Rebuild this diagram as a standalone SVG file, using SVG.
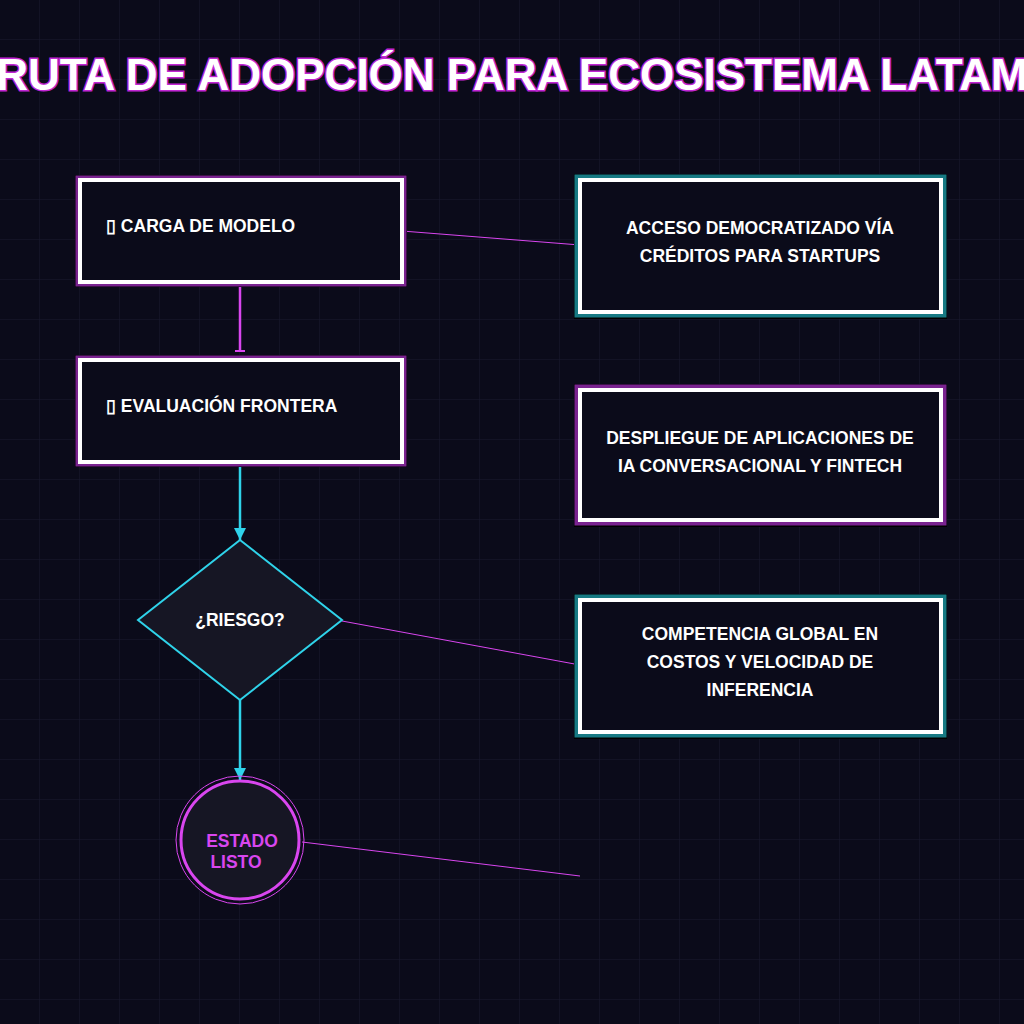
<svg xmlns="http://www.w3.org/2000/svg" width="1024" height="1024" viewBox="0 0 1024 1024">
<defs>
<pattern id="grid" width="40" height="40" patternUnits="userSpaceOnUse"><path d="M40 0V40M0 40H40" fill="none" stroke="#191930" stroke-width="1"/></pattern>
<marker id="arr" viewBox="0 0 10 10" refX="10" refY="5" markerWidth="12" markerHeight="20" markerUnits="userSpaceOnUse" orient="auto"><path d="M0 0L10 5L0 10Z" fill="#2fd3ea"/></marker>
<marker id="tee" viewBox="0 0 2 10" refX="1" refY="5" markerWidth="2" markerHeight="20" markerUnits="userSpaceOnUse" orient="auto"><rect width="2" height="10" fill="#d946ef"/></marker>
</defs>
<style>
.t{font-family:"Liberation Sans",Arial,sans-serif;font-weight:bold;fill:#fff;font-size:17.5px}
.c{text-anchor:middle}
.in{fill:#0b0b1a;stroke:#fff;stroke-width:4}
.thin{stroke:#d946ef;stroke-width:1;fill:none}
</style>
<rect width="1024" height="1024" fill="#0b0b1a"/>
<rect width="1024" height="1024" fill="url(#grid)"/>
<text x="512" y="90" class="t c" style="font-size:44px;stroke:#c026d3;stroke-width:3;paint-order:stroke">RUTA DE ADOPCIÓN PARA ECOSISTEMA LATAM</text>
<g id="connectors">
<line x1="240" y1="282" x2="240" y2="351" stroke="#d946ef" stroke-width="2.5" marker-end="url(#tee)"/>
<line x1="240" y1="462" x2="240" y2="540" stroke="#2fd3ea" stroke-width="2.5" marker-end="url(#arr)"/>
<line x1="240" y1="700" x2="240" y2="780" stroke="#2fd3ea" stroke-width="2.5" marker-end="url(#arr)"/>
<line x1="402" y1="231" x2="580" y2="245" class="thin"/>
<line x1="342" y1="621" x2="580" y2="665" class="thin"/>
<line x1="302" y1="842" x2="580" y2="876" class="thin"/>
</g>
<g id="n1"><rect x="75" y="175" width="332" height="112" fill="#000"/><rect x="78" y="178" width="326" height="106" stroke="#7a2390" stroke-width="5" fill="none"/><rect x="80" y="180" width="322" height="102" class="in"/><text x="106" y="232" class="t">▯ CARGA DE MODELO</text></g>
<g id="n2"><rect x="75" y="355" width="332" height="112" fill="#000"/><rect x="78" y="358" width="326" height="106" stroke="#7a2390" stroke-width="5" fill="none"/><rect x="80" y="360" width="322" height="102" class="in"/><text x="106" y="412" class="t">▯ EVALUACIÓN FRONTERA</text></g>
<g id="n3"><polygon points="240,540 342,620 240,700 138,620" fill="#161624" stroke="#2fd3ea" stroke-width="2"/><text x="240" y="626" class="t c">¿RIESGO?</text></g>
<g id="n4"><circle cx="240" cy="840" r="64" fill="none" stroke="#d946ef" stroke-width="1"/><circle cx="240" cy="840" r="59" fill="#161624" stroke="#d946ef" stroke-width="3"/><text class="t c" style="fill:#d946ef"><tspan x="242" y="847">ESTADO</tspan><tspan x="236" y="868">LISTO</tspan></text></g>
<g id="r1"><rect x="574" y="174" width="373" height="145" fill="#000"/><rect x="577" y="177" width="367" height="138" stroke="#177a84" stroke-width="5" fill="none"/><rect x="580" y="180" width="361" height="132" class="in"/><text class="t c"><tspan x="760" y="234">ACCESO DEMOCRATIZADO VÍA</tspan><tspan x="760" y="262">CRÉDITOS PARA STARTUPS</tspan></text></g>
<g id="r2"><rect x="574" y="384" width="373" height="143" fill="#000"/><rect x="577" y="387" width="367" height="136" stroke="#7a2390" stroke-width="5" fill="none"/><rect x="580" y="390" width="361" height="130" class="in"/><text class="t c"><tspan x="760" y="444">DESPLIEGUE DE APLICACIONES DE</tspan><tspan x="760" y="472">IA CONVERSACIONAL Y FINTECH</tspan></text></g>
<g id="r3"><rect x="574" y="594" width="373" height="145" fill="#000"/><rect x="577" y="597" width="367" height="138" stroke="#177a84" stroke-width="5" fill="none"/><rect x="580" y="600" width="361" height="132" class="in"/><text class="t c"><tspan x="760" y="640">COMPETENCIA GLOBAL EN</tspan><tspan x="760" y="668">COSTOS Y VELOCIDAD DE</tspan><tspan x="760" y="696">INFERENCIA</tspan></text></g>
</svg>
